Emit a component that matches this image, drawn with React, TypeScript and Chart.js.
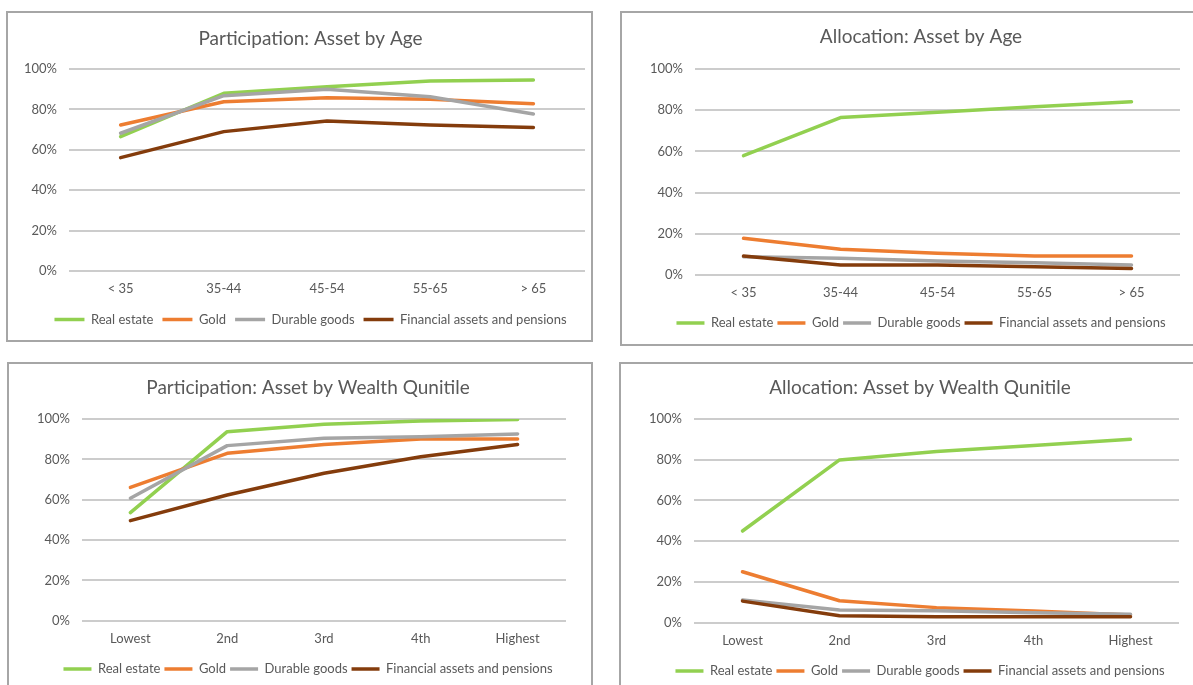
import React, { useEffect, useRef } from 'react';
import { Chart, registerables } from 'chart.js';

Chart.register(...registerables);

// ---------- data ----------
const SERIES_NAMES = ['Real estate', 'Gold', 'Durable goods', 'Financial assets and pensions'];
const SERIES_COLORS = ['#92D050', '#ED7D31', '#A5A5A5', '#843C0C'];

const AGE_GROUPS = ['< 35', '35-44', '45-54', '55-65', '> 65'];
const WEALTH_QUINTILES = ['Lowest', '2nd', '3rd', '4th', 'Highest'];

// Participation: Asset by Age (%)
const partAgeRealEstate = [66.5, 88, 91.2, 94, 94.5];
const partAgeGold = [72.3, 83.8, 85.8, 85, 82.8];
const partAgeDurable = [68.2, 86.8, 90, 86.3, 77.7];
const partAgeFinancial = [56.1, 69, 74.3, 72.3, 71];

// Allocation: Asset by Age (%)
const allocAgeRealEstate = [57.9, 76.4, 79, 81.7, 84.1];
const allocAgeGold = [17.8, 12.5, 10.5, 9.2, 9.2];
const allocAgeDurable = [8.9, 8.1, 6.8, 6, 4.9];
const allocAgeFinancial = [9.2, 4.9, 4.9, 4.0, 3.2];

// Participation: Asset by Wealth Quintile (%)
const partWealthRealEstate = [53.6, 93.7, 97.4, 99, 99.8];
const partWealthGold = [66.1, 83, 87.4, 90.1, 90.1];
const partWealthDurable = [60.7, 86.8, 90.4, 91.2, 92.6];
const partWealthFinancial = [49.6, 62.3, 73.1, 81.3, 87.4];

// Allocation: Asset by Wealth Quintile (%)
const allocWealthRealEstate = [45, 79.9, 84, 87, 90];
const allocWealthGold = [25, 10.8, 7.4, 5.7, 3.8];
const allocWealthDurable = [11.1, 6.2, 5.9, 4.9, 4.1];
const allocWealthFinancial = [10.6, 3.4, 2.9, 2.9, 2.9];

const Y_MIN = 0;
const Y_MAX = 100;
const Y_STEP = 20;

// ---------- layout ----------
type Layout = {
  left: number; top: number;          // canvas position (also border box position)
  boxWidth: number; boxHeight: number; // visible bordered panel size
  canvasWidth: number;                 // canvas width (title/legend centred on it)
  padBottom: number;
  titleTop: number; titleBottom: number;
  yWidth: number; rightWidth: number; xHeight: number;
  legendPad: number; legendLine: number;
};

const FONT = 'Lato';
const TEXT_COLOR = '#595959';

function ChartPanel(props: { title: string; labels: string[]; series: number[][]; layout: Layout }) {
  const ref = useRef<HTMLCanvasElement | null>(null);
  const { title, labels, series, layout } = props;

  useEffect(() => {
    if (!ref.current) return;
    const chart = new Chart(ref.current, {
      type: 'line',
      data: {
        labels,
        datasets: series.map((values, i) => ({
          label: SERIES_NAMES[i],
          data: values,
          borderColor: SERIES_COLORS[i],
          backgroundColor: SERIES_COLORS[i],
          borderWidth: 3.5,
          borderCapStyle: 'round' as const,
          borderJoinStyle: 'round' as const,
          pointRadius: 0,
          pointHoverRadius: 0,
          tension: 0,
          fill: false,
          yAxisID: 'y',
          order: series.length - i,
        })),
      },
      options: {
        responsive: false,
        animation: false,
        layout: {
          padding: { left: 0, right: 0, top: 0, bottom: layout.padBottom },
        },
        plugins: {
          title: {
            display: true,
            text: title,
            color: TEXT_COLOR,
            font: { family: FONT, size: 19, weight: 'normal' as const },
            padding: { top: layout.titleTop, bottom: layout.titleBottom },
          },
          legend: {
            display: true,
            position: 'bottom',
            labels: {
              usePointStyle: true,
              pointStyle: 'line',
              pointStyleWidth: layout.legendLine,
              boxHeight: 13,
              padding: layout.legendPad,
              color: TEXT_COLOR,
              font: { family: FONT, size: 13 },
              sort: (a: any, b: any) => a.datasetIndex - b.datasetIndex,
            },
          },
          tooltip: { enabled: false },
        },
        scales: {
          x: {
            type: 'category',
            offset: true,
            grid: { display: false },
            border: { display: false },
            ticks: { color: TEXT_COLOR, font: { family: FONT, size: 13 }, padding: 2, maxRotation: 0 },
            afterFit: (s: any) => { s.height = layout.xHeight; },
          },
          y: {
            min: Y_MIN,
            max: Y_MAX,
            grid: { color: '#cccccc', lineWidth: 2, drawTicks: false },
            border: { display: false },
            ticks: {
              stepSize: Y_STEP,
              color: TEXT_COLOR,
              font: { family: FONT, size: 13 },
              padding: 12,
              callback: (v: any) => v + '%',
            },
            afterFit: (s: any) => { s.width = layout.yWidth; },
          },
          yRightSpace: {
            type: 'linear',
            position: 'right',
            min: Y_MIN,
            max: Y_MAX,
            grid: { display: false, drawTicks: false },
            border: { display: false },
            ticks: { display: false },
            afterFit: (s: any) => { s.width = layout.rightWidth; },
          },
        },
      },
    });
    return () => chart.destroy();
  }, []);

  return (
    <>
      <canvas
        ref={ref}
        width={layout.canvasWidth}
        height={layout.boxHeight}
        style={{ position: 'absolute', left: layout.left, top: layout.top, width: layout.canvasWidth, height: layout.boxHeight }}
      />
      <div
        style={{
          position: 'absolute', left: layout.left, top: layout.top, width: layout.boxWidth, height: layout.boxHeight,
          border: '2px solid #a6a6a6', boxSizing: 'border-box', pointerEvents: 'none',
        }}
      />
    </>
  );
}

const L1: Layout = { left: 6, top: 11, boxWidth: 587, boxHeight: 331, canvasWidth: 609, padBottom: 6, titleTop: 16.6, titleBottom: 18.6, yWidth: 63, rightWidth: 30, xHeight: 33, legendPad: 9, legendLine: 30 };
const L2: Layout = { left: 620, top: 11, boxWidth: 590, boxHeight: 335, canvasWidth: 602, padBottom: 6.5, titleTop: 14.9, titleBottom: 20.3, yWidth: 75, rightWidth: 42, xHeight: 37.5, legendPad: 4, legendLine: 28 };
const L3: Layout = { left: 7, top: 362, boxWidth: 586, boxHeight: 335, canvasWidth: 602, padBottom: 11.5, titleTop: 14.9, titleBottom: 19.3, yWidth: 75, rightWidth: 43, xHeight: 37.8, legendPad: 4, legendLine: 28 };
const L4: Layout = { left: 619, top: 362, boxWidth: 590, boxHeight: 335, canvasWidth: 602, padBottom: 9.5, titleTop: 14.9, titleBottom: 19.3, yWidth: 75, rightWidth: 42, xHeight: 37.8, legendPad: 4, legendLine: 28 };

export default function App() {
  return (
    <div style={{ position: 'fixed', left: 0, top: 0, width: 1193, height: 685, overflow: 'hidden', background: '#ffffff' }}>
      <ChartPanel
        title="Participation: Asset by Age"
        labels={AGE_GROUPS}
        series={[partAgeRealEstate, partAgeGold, partAgeDurable, partAgeFinancial]}
        layout={L1}
      />
      <ChartPanel
        title="Allocation: Asset by Age"
        labels={AGE_GROUPS}
        series={[allocAgeRealEstate, allocAgeGold, allocAgeDurable, allocAgeFinancial]}
        layout={L2}
      />
      <ChartPanel
        title="Participation: Asset by Wealth Qunitile"
        labels={WEALTH_QUINTILES}
        series={[partWealthRealEstate, partWealthGold, partWealthDurable, partWealthFinancial]}
        layout={L3}
      />
      <ChartPanel
        title="Allocation: Asset by Wealth Qunitile"
        labels={WEALTH_QUINTILES}
        series={[allocWealthRealEstate, allocWealthGold, allocWealthDurable, allocWealthFinancial]}
        layout={L4}
      />
    </div>
  );
}
